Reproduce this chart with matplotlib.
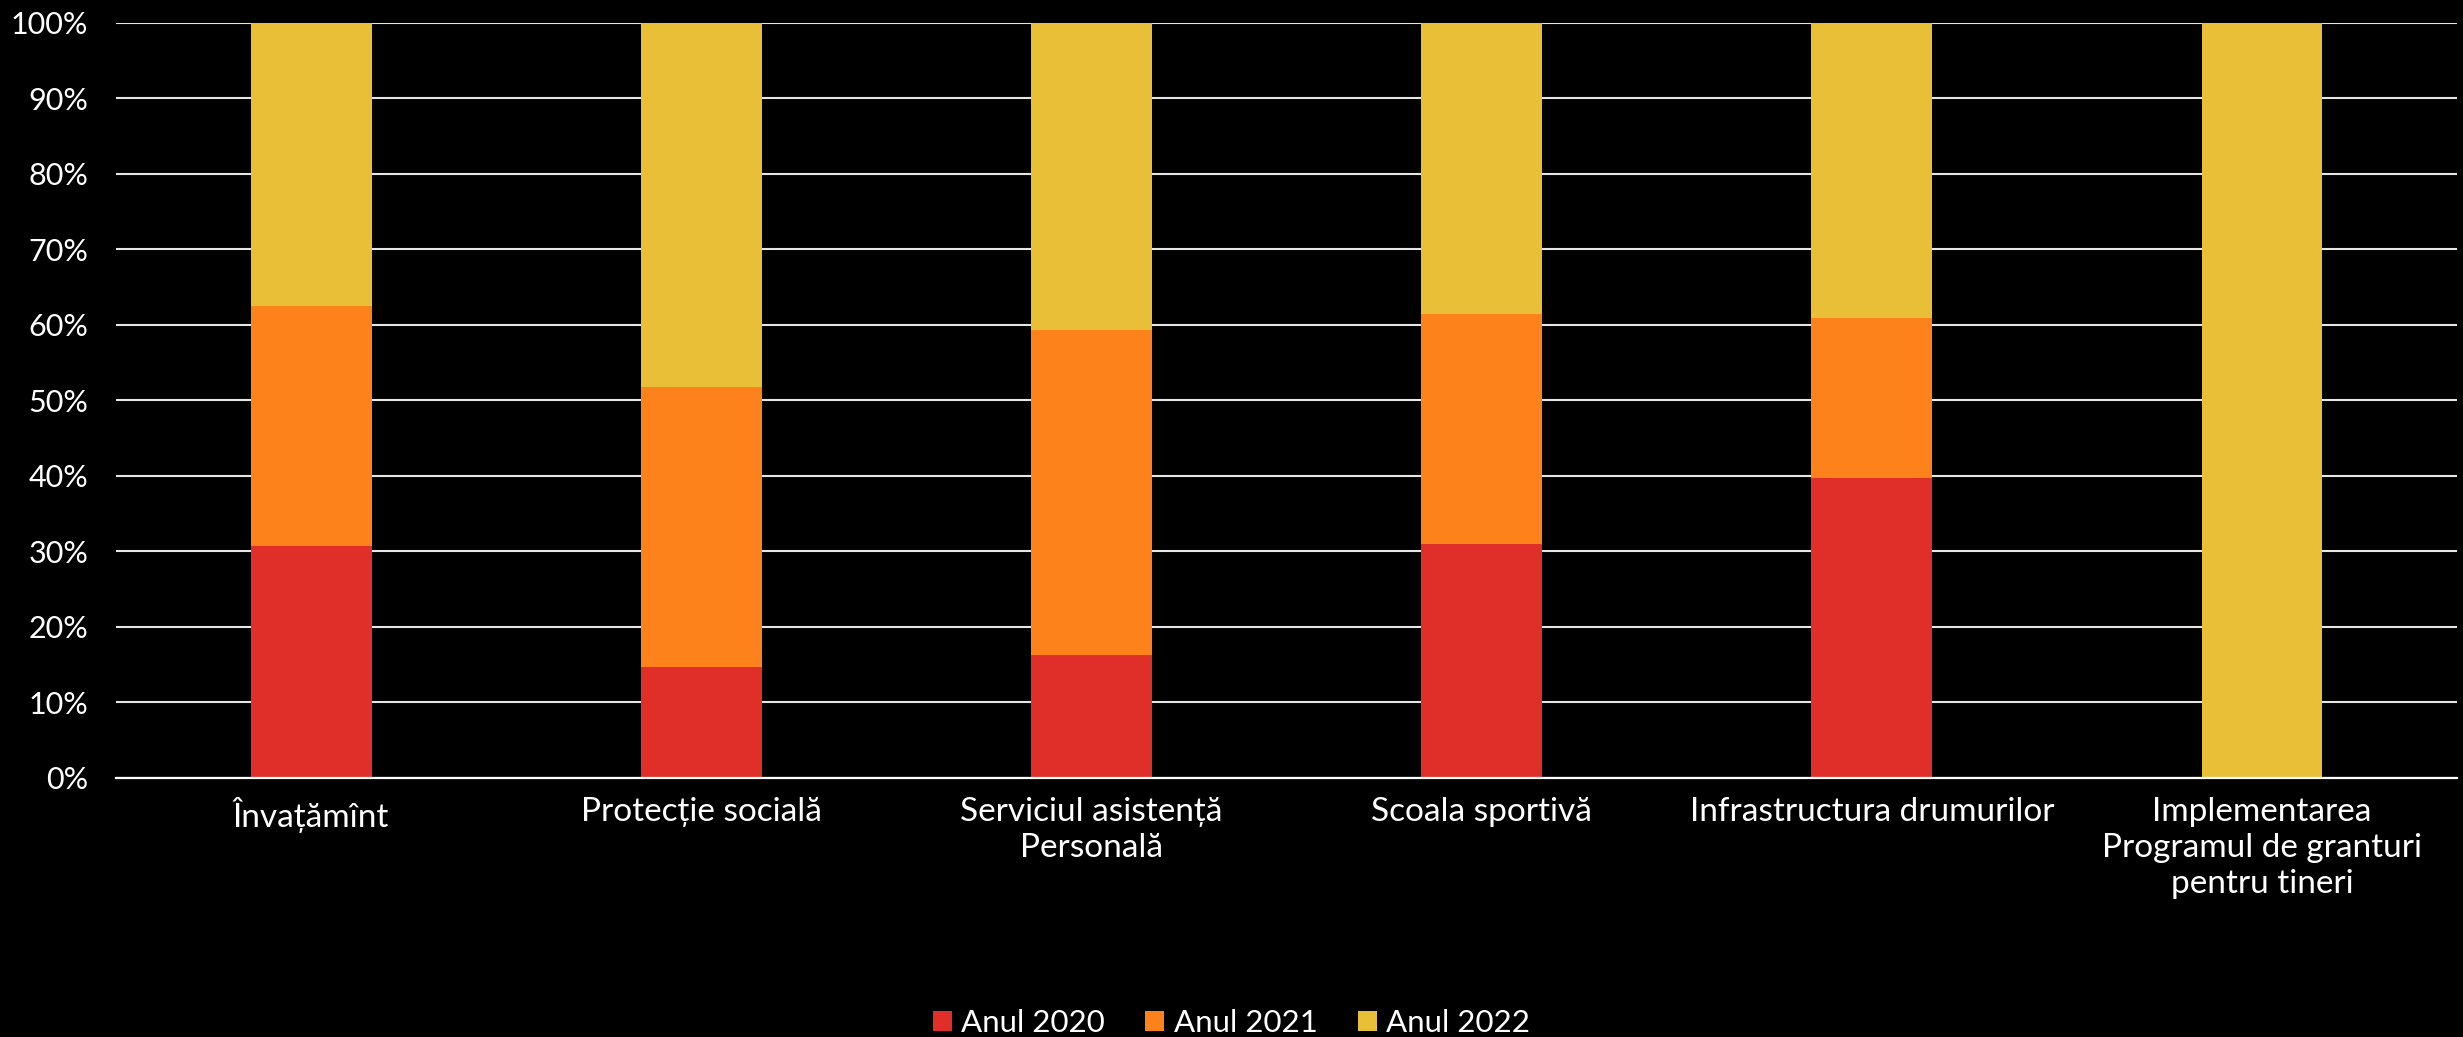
import numpy as np
import matplotlib.pyplot as plt
from matplotlib.ticker import PercentFormatter

# Data (shares in percent)
categories = ['Învațămînt', 'Protecție socială', 'Serviciul asistență\nPersonală',
              'Scoala sportivă', 'Infrastructura drumurilor',
              'Implementarea\nProgramul de granturi\npentru tineri']
anul_2020 = [30.7, 14.7, 16.2, 31.0, 39.7, 0.0]
anul_2021 = [31.8, 37.0, 43.1, 30.4, 21.2, 0.0]
anul_2022 = [37.5, 48.3, 40.7, 38.6, 39.1, 100.0]
series_names = ['Anul 2020', 'Anul 2021', 'Anul 2022']
colors = ['#E02F28', '#FD821B', '#E8BF37']

plt.rcParams['font.family'] = ['Lato', 'DejaVu Sans']

fig = plt.figure(figsize=(24.63, 10.37), dpi=100, facecolor='black')
ax = fig.add_axes([0.0471, 0.25, 0.9505, 0.728])
ax.set_facecolor('black')

x = np.arange(len(categories))
bottom = np.zeros(len(categories))
for vals, name, col in zip([anul_2020, anul_2021, anul_2022], series_names, colors):
    ax.bar(x, vals, bottom=bottom, width=0.31, color=col, label=name, zorder=3)
    bottom += np.array(vals)

ax.set_xlim(-0.5, len(categories) - 0.5)
ax.set_ylim(0, 100)
ax.set_yticks(np.arange(0, 101, 10))
ax.yaxis.set_major_formatter(PercentFormatter(decimals=0))
ax.set_xticks(x)
ax.set_xticklabels(categories, linespacing=1.25)
ax.grid(axis='y', color='#E6E6E6', linewidth=1.5, zorder=0)
for s in ['left', 'right', 'top']:
    ax.spines[s].set_visible(False)
ax.spines['bottom'].set_color('white')
ax.spines['bottom'].set_linewidth(1.6)
ax.spines['bottom'].set_zorder(4)
ax.tick_params(axis='y', length=0, pad=20, labelsize=22, labelcolor='white')
ax.tick_params(axis='x', length=0, pad=14, labelsize=24, labelcolor='white')

fig.legend(loc='lower center', bbox_to_anchor=(0.5, -0.027), ncol=3, frameon=False,
           fontsize=22.5, labelcolor='white', handlelength=0.6, handleheight=0.6,
           handletextpad=0.3, columnspacing=1.3)

fig.savefig('out.png', facecolor='black')
